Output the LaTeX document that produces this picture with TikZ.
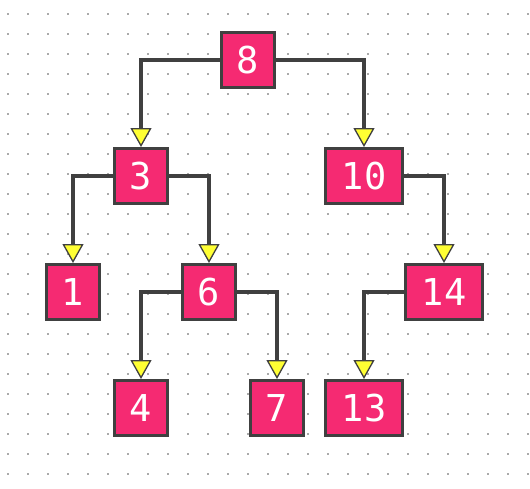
\documentclass[tikz,border=0pt]{standalone}
\usepackage{fontspec}
\newfontfamily\keyfont{DejaVu Sans Mono}
\definecolor{KeyPink}{RGB}{245,42,114}
\definecolor{EdgeGrey}{RGB}{64,64,64}
\definecolor{TipYellow}{RGB}{255,255,51}
\definecolor{DotGrey}{RGB}{170,170,170}
\usetikzlibrary{arrows.meta,positioning}

\begin{document}
\begin{tikzpicture}[
        x=1pt, y=1pt,
        node distance=58pt,
        key/.style={rectangle, draw=EdgeGrey, fill=KeyPink, line width=3.3pt, inner sep=0pt,
                    minimum width=52.7pt, minimum height=54.7pt, text=white,
                    font=\keyfont\fontsize{37}{40}\selectfont},
        widekey/.style={key, minimum width=76.7pt},
        edge/.style={draw=EdgeGrey, line width=3.3pt,
                     -{Triangle[width=21pt,length=19pt,fill=TipYellow,line width=1.3pt]}}
    ]
        \useasboundingbox (0,0) rectangle (530,-488);
        % dotted background
        \foreach \i in {0,...,26}
            \foreach \j in {0,...,23}
                \fill[DotGrey] (7+20*\i,-13-20*\j) rectangle ++(2,-2);
        \node[key] (k8) at (248,-60) {8};
        \node[key, below=of k8, xshift=-107pt]     (k3)  {3};
        \node[widekey, below=of k8, xshift=116pt]  (k10) {10};
        \node[key, below=of k3, xshift=-68pt]      (k1)  {1};
        \node[key, below=of k3, xshift=68pt]       (k6)  {6};
        \node[widekey, below=of k10, xshift=80pt]  (k14) {14};
        \node[key, below=of k6, xshift=-68pt]      (k4)  {4};
        \node[key, below=of k6, xshift=68pt]       (k7)  {7};
        \node[widekey, below=of k14, xshift=-80pt] (k13) {13};
        \path[edge] (k8.west)  -| (k3.north);
        \path[edge] (k8.east)  -| (k10.north);
        \path[edge] (k3.west)  -| (k1.north);
        \path[edge] (k3.east)  -| (k6.north);
        \path[edge] (k10.east) -| (k14.north);
        \path[edge] (k6.west)  -| (k4.north);
        \path[edge] (k6.east)  -| (k7.north);
        \path[edge] (k14.west) -| (k13.north);
\end{tikzpicture}
\end{document}
